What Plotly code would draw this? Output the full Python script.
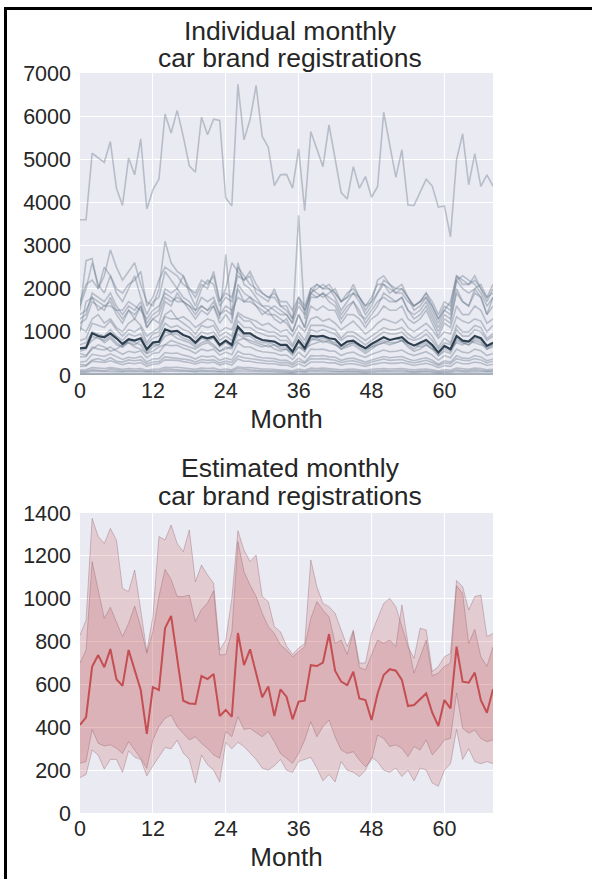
import plotly.graph_objects as go

# ---------------- DATA ----------------
months = list(range(69))
x_ticks = [0, 12, 24, 36, 48, 60]
y1_ticks = [0, 1000, 2000, 3000, 4000, 5000, 6000, 7000]
y2_ticks = [0, 200, 400, 600, 800, 1000, 1200, 1400]

title_top = ["Individual monthly", "car brand registrations"]
title_bottom = ["Estimated monthly", "car brand registrations"]
x_title = "Month"

# top panel: individual brands
brand_leader = [3600, 3600, 5140, 5030, 4930, 5410, 4330, 3930, 5030, 4640, 5475, 3850, 4290, 4540,
                6050, 5610, 6130, 5530, 4850, 4700, 5980, 5570, 5930, 5900, 4100, 3920, 6740, 5450,
                5920, 6710, 5530, 5280, 4390, 4640, 4650, 4330, 5240, 3810, 5640, 5240, 4830, 5800,
                4990, 4230, 4080, 4830, 4330, 4600, 4120, 4370, 6090, 5300, 4580, 5220, 3940, 3930,
                4220, 4540, 4380, 3890, 3920, 3200, 4990, 5590, 4410, 5130, 4370, 4640, 4380]
brand_a = [1500, 2650, 2700, 2000, 2300, 2900, 2500, 2200, 2400, 2600, 2100, 1700, 1600, 2000, 3100,
           2600, 2400, 2300, 2000, 1800, 2100, 2000, 2400, 1700, 2000, 2600, 2400, 2200, 2300, 1900,
           1800, 1700, 2000, 1600, 1500, 1300, 1800, 1500, 1900, 2100, 2000, 2100, 1900, 1700, 1900,
           2000, 1800, 1500, 1700, 2200, 2300, 2100, 2000, 2100, 1800, 1600, 1700, 1900, 1600, 1300,
           1500, 1700, 2300, 2200, 2100, 2200, 2000, 1700, 2000]
brand_b = [1300, 1400, 1900, 1800, 1700, 1900, 1600, 1400, 1600, 1500, 1700, 1200, 1400, 1500, 2000,
           1900, 2000, 1800, 1700, 1500, 1800, 1700, 1800, 1400, 1500, 1400, 2600, 2100, 2000, 1800,
           1600, 1600, 1500, 1400, 1400, 1200, 3700, 1300, 1800, 1800, 1900, 1800, 1700, 1400, 1600,
           1700, 1400, 1300, 1500, 1700, 1800, 1700, 1700, 1800, 1500, 1400, 1500, 1700, 1400, 1100,
           1400, 1300, 1900, 1700, 1600, 1900, 1800, 1400, 1600]
brand_c = [1200, 1300, 1700, 1600, 1500, 1800, 1500, 1300, 1500, 1400, 1600, 1100, 1300, 1400, 1800,
           1700, 1800, 1700, 1600, 1400, 1600, 1500, 1600, 1300, 2800, 1300, 2000, 1700, 1700, 1600,
           1500, 1400, 1400, 1300, 1200, 1000, 1400, 1100, 1600, 1500, 1600, 1500, 1500, 1200, 1400,
           1400, 1300, 1100, 1300, 1400, 1600, 1500, 1500, 1600, 1300, 1200, 1300, 1500, 1200, 900,
           1200, 1100, 1600, 1400, 1400, 1600, 1500, 1200, 1300]
brand_d = [1000, 1700, 1800, 1500, 1600, 1700, 1400, 1200, 1500, 1300, 1600, 1100, 1300, 1200, 1700,
           1600, 1900, 1700, 1500, 1300, 1500, 1400, 1600, 1200, 1400, 1200, 2100, 1900, 1800, 1600,
           1400, 1500, 1300, 1200, 1300, 1000, 1400, 1100, 1900, 1800, 1900, 1700, 1600, 1300, 1500,
           1700, 1500, 1200, 1400, 1600, 1900, 1800, 1700, 1800, 1500, 1300, 1400, 1600, 1300, 1000,
           1300, 1200, 2000, 1700, 1600, 2000, 1800, 1400, 1800]
brand_e = [800, 850, 1200, 1150, 1100, 1250, 1050, 900, 1050, 1000, 1100, 750, 950, 1000, 1350, 1300,
           1300, 1200, 1100, 950, 1150, 1100, 1150, 900, 1000, 900, 1400, 1250, 1250, 1100, 1050, 1000,
           1000, 900, 900, 700, 1000, 800, 1150, 1150, 1150, 1100, 1050, 850, 1000, 1000, 900, 800, 900,
           1000, 1100, 1050, 1050, 1100, 950, 850, 950, 1050, 900, 650, 850, 750, 1150, 1000, 1000, 1150,
           1100, 850, 950]
brand_f = [550, 600, 900, 850, 800, 900, 750, 650, 750, 700, 800, 550, 700, 700, 1000, 950, 950, 850,
           800, 700, 850, 800, 850, 650, 750, 650, 1050, 900, 900, 800, 750, 750, 700, 650, 650, 500,
           750, 550, 850, 800, 850, 800, 750, 600, 700, 750, 650, 550, 650, 750, 800, 750, 750, 800, 700,
           600, 700, 750, 650, 450, 600, 550, 850, 750, 700, 850, 800, 600, 700]
brand_g = [420, 430, 650, 600, 580, 650, 560, 480, 550, 520, 560, 400, 500, 520, 700, 680, 690, 620,
           580, 500, 600, 560, 600, 460, 530, 470, 750, 650, 650, 580, 540, 520, 510, 460, 460, 360, 530,
           410, 600, 590, 600, 560, 550, 450, 510, 530, 460, 410, 480, 530, 580, 540, 550, 580, 500, 450,
           500, 540, 460, 340, 450, 400, 600, 530, 510, 600, 560, 450, 500]
brand_h = [300, 320, 480, 450, 430, 490, 420, 360, 410, 390, 430, 300, 370, 380, 520, 500, 510, 460,
           430, 370, 440, 420, 440, 340, 390, 350, 550, 480, 480, 430, 400, 390, 380, 340, 340, 270, 390,
           300, 450, 440, 450, 420, 410, 340, 380, 390, 340, 300, 350, 390, 430, 400, 410, 430, 370, 330,
           370, 400, 340, 250, 330, 300, 450, 390, 380, 450, 420, 330, 370]
brand_i = [200, 210, 320, 300, 290, 330, 280, 240, 280, 260, 290, 200, 250, 260, 350, 340, 340, 310,
           290, 250, 300, 280, 300, 230, 270, 230, 370, 320, 320, 290, 270, 260, 260, 230, 230, 180, 260,
           200, 300, 300, 300, 280, 280, 230, 260, 260, 230, 200, 240, 260, 290, 270, 270, 290, 250, 220,
           250, 270, 230, 170, 220, 200, 300, 260, 260, 300, 280, 220, 250]
brand_j = [110, 120, 170, 160, 150, 170, 150, 130, 150, 140, 150, 110, 130, 140, 180, 170, 180, 160,
           150, 130, 160, 150, 160, 120, 140, 120, 190, 170, 170, 150, 140, 140, 130, 120, 120, 100, 140,
           110, 160, 150, 160, 150, 140, 120, 130, 140, 120, 110, 130, 140, 150, 140, 140, 150, 130, 120,
           130, 140, 120, 90, 120, 110, 160, 140, 130, 160, 150, 120, 130]
brand_k = [60, 60, 90, 85, 80, 90, 80, 70, 80, 75, 80, 60, 70, 70, 95, 90, 95, 85, 80, 70, 85, 80, 85,
           65, 75, 65, 100, 90, 90, 80, 75, 75, 70, 65, 65, 50, 75, 60, 85, 80, 85, 80, 75, 60, 70, 75,
           65, 55, 65, 75, 80, 75, 75, 80, 70, 60, 70, 75, 65, 45, 60, 55, 85, 75, 70, 85, 80, 60, 70]
brand_l = [25, 25, 35, 35, 30, 35, 30, 28, 30, 30, 30, 22, 28, 28, 38, 36, 36, 33, 30, 28, 32, 30, 32,
           25, 28, 25, 40, 35, 35, 32, 30, 30, 28, 25, 25, 20, 30, 22, 33, 32, 33, 32, 30, 25, 28, 30,
           25, 22, 25, 28, 32, 30, 30, 32, 28, 25, 28, 30, 25, 18, 25, 22, 33, 30, 28, 33, 32, 25, 28]
brand_m = [1400, 1500, 1800, 1700, 1600, 1600, 1500, 1500, 1700, 1600, 1500, 1300, 1500, 1600, 1900,
           1800, 1700, 1700, 1600, 1500, 1600, 1500, 1700, 1400, 1600, 1500, 1800, 1700, 1800, 1700,
           1600, 1500, 1600, 1500, 1400, 1200, 1600, 1400, 2000, 1900, 1800, 1900, 2000, 1700, 1800,
           1900, 1800, 1600, 1700, 1900, 2100, 2000, 1900, 1900, 1700, 1600, 1700, 1800, 1600, 1300,
           1600, 1500, 2200, 2000, 1900, 2000, 2100, 1800, 1900]
brand_n = [700, 750, 1000, 950, 900, 1050, 900, 800, 950, 900, 950, 700, 850, 900, 1200, 1100, 1150,
           1050, 1000, 850, 1000, 950, 1000, 800, 900, 800, 1250, 1100, 1100, 1000, 950, 900, 900, 800,
           800, 650, 900, 700, 1050, 1000, 1050, 1000, 950, 800, 900, 900, 800, 700, 800, 900, 1000, 950,
           950, 1000, 850, 800, 850, 950, 800, 600, 750, 700, 1050, 900, 900, 1050, 1000, 800, 900]
brand_o = [1700, 2100, 2200, 2000, 2500, 2300, 2000, 1900, 2100, 2200, 2400, 1600, 1800, 2200, 2500,
           2400, 2300, 2100, 2000, 1900, 2200, 2100, 2300, 1700, 1900, 1800, 2300, 2200, 2400, 2100,
           1900, 1800, 1900, 1700, 1700, 1500, 1800, 1600, 2000, 2100, 2000, 2000, 1900, 1700, 1800,
           2100, 1800, 1600, 1800, 2100, 2100, 1900, 2000, 2000, 1800, 1600, 1700, 1900, 1700, 1400,
           1700, 1600, 2300, 2100, 2100, 2300, 2000, 1800, 2100]
brand_p = [500, 450, 600, 700, 650, 550, 600, 700, 750, 650, 600, 500, 550, 650, 700, 800, 750, 700,
           650, 600, 700, 750, 650, 550, 600, 650, 800, 850, 750, 700, 650, 700, 600, 550, 600, 500, 650,
           600, 700, 750, 800, 750, 700, 650, 700, 750, 700, 600, 650, 700, 750, 800, 850, 800, 750, 700,
           650, 700, 600, 550, 650, 600, 750, 700, 800, 750, 700, 650, 700]
brand_q = [1100, 1000, 1300, 1400, 1200, 1300, 1100, 1000, 1200, 1300, 1150, 900, 1000, 1100, 1400,
           1500, 1300, 1350, 1250, 1100, 1200, 1300, 1250, 1000, 1100, 1050, 1450, 1350, 1300, 1250,
           1150, 1200, 1100, 1000, 1050, 900, 1150, 1000, 1300, 1350, 1250, 1300, 1200, 1050, 1150, 1250,
           1100, 950, 1050, 1200, 1300, 1250, 1200, 1300, 1100, 1000, 1100, 1200, 1050, 850, 1000, 950,
           1350, 1250, 1200, 1300, 1250, 1000, 1150]
brand_r = [1600, 2000, 2600, 2100, 1900, 2300, 1900, 1700, 2000, 2300, 1800, 1400, 1700, 1800, 2400,
           2200, 2000, 2300, 1900, 1600, 2000, 2200, 2100, 1600, 1800, 1700, 2500, 2300, 2100, 2000,
           1900, 1800, 1800, 1600, 1600, 1300, 1700, 1500, 1900, 2000, 2100, 2000, 1800, 1500, 1700,
           1900, 1700, 1400, 1600, 1900, 2200, 2100, 1900, 2000, 1800, 1500, 1600, 1800, 1500, 1200,
           1500, 1400, 2200, 2300, 2200, 2100, 1900, 1600, 1800]
brand_s = [600, 650, 800, 900, 750, 850, 700, 650, 800, 750, 700, 500, 650, 700, 900, 950, 850, 800,
           750, 650, 750, 800, 700, 550, 650, 600, 950, 850, 800, 750, 700, 650, 700, 600, 600, 450, 650,
           550, 800, 850, 750, 800, 700, 600, 650, 700, 600, 500, 600, 700, 750, 700, 750, 800, 650, 550,
           600, 700, 600, 450, 550, 500, 800, 750, 700, 800, 750, 600, 650]
brand_t = [250, 230, 350, 380, 330, 400, 320, 300, 350, 330, 350, 250, 300, 310, 420, 400, 380, 370,
           350, 300, 360, 340, 350, 280, 320, 290, 440, 400, 380, 350, 330, 320, 320, 280, 290, 230, 320,
           270, 380, 370, 380, 360, 340, 290, 320, 330, 290, 250, 300, 330, 370, 340, 350, 360, 310, 280,
           310, 340, 290, 220, 280, 260, 380, 340, 330, 380, 350, 280, 320]
brand_u = [80, 90, 120, 110, 100, 130, 110, 90, 110, 100, 110, 80, 90, 100, 140, 130, 130, 120, 110, 90,
           110, 100, 110, 80, 90, 90, 150, 130, 120, 110, 100, 100, 100, 90, 90, 70, 100, 80, 120, 110,
           120, 110, 100, 80, 100, 100, 90, 80, 90, 100, 110, 100, 110, 110, 90, 80, 90, 100, 90, 70, 80,
           80, 120, 100, 100, 120, 110, 90, 100]
brand_v = [15, 15, 20, 20, 18, 20, 18, 15, 18, 17, 18, 13, 15, 16, 22, 21, 21, 19, 18, 15, 18, 17, 18,
           14, 16, 14, 23, 20, 20, 18, 17, 16, 16, 14, 14, 11, 16, 13, 19, 18, 19, 18, 17, 14, 16, 16,
           14, 13, 15, 16, 18, 17, 17, 18, 15, 14, 15, 17, 14, 11, 14, 12, 19, 16, 16, 19, 18, 14, 16]
brand_mean = [619, 634, 967, 905, 874, 967, 851, 719, 828, 797, 851, 596, 750, 773, 1060, 1005, 1021,
              928, 874, 750, 890, 851, 890, 696, 797, 696, 1121, 967, 967, 874, 812, 789, 773, 696, 696,
              541, 797, 619, 905, 890, 905, 851, 828, 681, 773, 797, 696, 619, 719, 797, 874, 812, 835,
              874, 750, 681, 750, 812, 696, 518, 673, 596, 905, 797, 773, 905, 851, 673, 750]
brands = [brand_leader, brand_a, brand_b, brand_c, brand_d, brand_e, brand_f, brand_g, brand_h,
          brand_i, brand_j, brand_k, brand_l, brand_m, brand_n, brand_o, brand_p, brand_q, brand_r,
          brand_s, brand_t, brand_u, brand_v]

# bottom panel: estimate with 50% and 90% bands
est_median = [411, 446, 683, 737, 680, 765, 624, 593, 761, 667, 574, 369, 587, 574, 862, 920, 722, 524,
              511, 509, 639, 625, 649, 453, 481, 449, 840, 690, 764, 652, 540, 590, 453, 577, 543, 437,
              520, 524, 690, 686, 702, 835, 664, 613, 597, 659, 535, 527, 434, 558, 644, 671, 664, 621,
              499, 504, 531, 558, 468, 406, 527, 488, 776, 613, 608, 655, 527, 468, 577]
est_hi50 = [700, 760, 1173, 1041, 908, 960, 893, 823, 885, 966, 870, 745, 846, 1010, 1137, 1090, 1010,
            1010, 1017, 893, 950, 980, 1037, 737, 740, 846, 1266, 1126, 1064, 1010, 932, 870, 838, 784,
            761, 729, 753, 776, 908, 986, 947, 916, 792, 807, 740, 846, 680, 667, 737, 807, 792, 807, 776,
            971, 792, 653, 729, 807, 640, 653, 684, 700, 1060, 1025, 792, 857, 729, 684, 776]
est_hi90 = [830, 900, 1375, 1290, 1258, 1328, 1274, 1048, 1033, 1134, 947, 753, 916, 1290, 1274, 1344,
            1258, 1219, 1321, 1079, 1157, 1111, 1072, 760, 807, 1000, 1317, 1227, 1173, 1204, 1010, 986,
            870, 846, 780, 740, 770, 790, 1181, 1056, 978, 963, 932, 854, 776, 854, 700, 700, 838, 908,
            978, 1002, 963, 870, 776, 722, 862, 854, 660, 684, 729, 745, 1085, 1056, 947, 1010, 1017, 823,
            838]
est_lo50 = [232, 240, 390, 325, 313, 318, 302, 278, 333, 294, 255, 208, 341, 403, 442, 457, 403, 372,
            341, 356, 325, 302, 271, 255, 380, 356, 449, 390, 395, 375, 356, 380, 333, 278, 255, 232, 278,
            341, 426, 356, 403, 434, 356, 294, 278, 286, 247, 216, 247, 364, 348, 310, 318, 302, 263, 310,
            294, 341, 271, 302, 341, 348, 559, 395, 372, 387, 348, 333, 341]
est_lo90 = [165, 180, 294, 270, 205, 250, 250, 190, 290, 260, 250, 173, 220, 265, 305, 300, 340, 280,
            250, 140, 270, 225, 200, 145, 330, 300, 330, 310, 280, 250, 210, 200, 220, 250, 200, 190, 240,
            250, 260, 210, 150, 180, 145, 240, 200, 190, 170, 200, 260, 240, 200, 190, 210, 170, 200, 150,
            210, 200, 140, 125, 200, 230, 390, 250, 300, 240, 230, 240, 230]

# ---------------- FIGURE ----------------
FONT = "Liberation Sans, Arial, sans-serif"
TXT = "#262626"
BG = "#EAEAF2"
RED = "#C44E52"
fig = go.Figure()

for b in brands:
    fig.add_trace(go.Scatter(x=months, y=b, mode="lines", xaxis="x", yaxis="y",
                             line=dict(color="rgba(105,122,140,0.40)", width=1.6),
                             showlegend=False, hoverinfo="skip"))
fig.add_trace(go.Scatter(x=months, y=brand_mean, mode="lines", xaxis="x", yaxis="y",
                         line=dict(color="#2E4050", width=2.2), showlegend=False))

band_edge = dict(color="rgba(140,90,100,0.45)", width=0.8)
fig.add_trace(go.Scatter(x=months, y=est_lo90, mode="lines", xaxis="x2", yaxis="y2",
                         line=band_edge, showlegend=False, hoverinfo="skip"))
fig.add_trace(go.Scatter(x=months, y=est_hi90, mode="lines", xaxis="x2", yaxis="y2", fill="tonexty",
                         fillcolor="rgba(196,78,82,0.2)", line=band_edge, showlegend=False,
                         hoverinfo="skip"))
fig.add_trace(go.Scatter(x=months, y=est_lo50, mode="lines", xaxis="x2", yaxis="y2",
                         line=band_edge, showlegend=False, hoverinfo="skip"))
fig.add_trace(go.Scatter(x=months, y=est_hi50, mode="lines", xaxis="x2", yaxis="y2", fill="tonexty",
                         fillcolor="rgba(196,78,82,0.2)", line=band_edge, showlegend=False,
                         hoverinfo="skip"))
fig.add_trace(go.Scatter(x=months, y=est_median, mode="lines", xaxis="x2", yaxis="y2",
                         line=dict(color=RED, width=2), showlegend=False))

W, H = 592, 879
ML, MR, MT, MB = 80, 99, 73, 66
PW, PH = W - ML - MR, H - MT - MB
top_dom = [1 - (375 - MT) / PH, 1]
bot_dom = [0, (813 - 513) / PH]

axis_common = dict(showgrid=True, gridcolor="white", gridwidth=1.2, zeroline=False, showline=False,
                   ticks="", automargin=False, tickfont=dict(size=21.5, color=TXT, family=FONT))
xcommon = dict(axis_common, range=[0, 68], tickmode="array", tickvals=x_ticks,
               title=dict(text=x_title, font=dict(size=26, color=TXT, family=FONT), standoff=8))

fig.update_layout(
    width=W, height=H, paper_bgcolor="white", plot_bgcolor=BG,
    margin=dict(l=ML, r=MR, t=MT, b=MB),
    font=dict(family=FONT, color=TXT),
    xaxis=dict(xcommon, domain=[0, 1], anchor="y"),
    yaxis=dict(axis_common, domain=top_dom, range=[0, 7000], tickmode="array", tickvals=y1_ticks,
               anchor="x", ticklabelstandoff=8),
    xaxis2=dict(xcommon, domain=[0, 1], anchor="y2"),
    yaxis2=dict(axis_common, domain=bot_dom, range=[0, 1400], tickmode="array", tickvals=y2_ticks,
                anchor="x2", ticklabelstandoff=8),
)


def px_x(px):
    return (px - ML) / PW


def px_y(py):
    return (H - MB - py) / PH


# two-line titles, each line placed separately (pixel centres from the reference)
for lines, centres in [(title_top, (31, 58)), (title_bottom, (468, 496))]:
    for txt, cy in zip(lines, centres):
        fig.add_annotation(text=txt, xref="paper", yref="paper", x=px_x(290), y=px_y(cy),
                           xanchor="center", yanchor="middle", showarrow=False,
                           font=dict(size=26.5, color=TXT, family=FONT))

# thin black frame (left & top) around the figure
fig.add_shape(type="line", xref="paper", yref="paper", x0=px_x(5.5), x1=px_x(5.5), y0=px_y(7),
              y1=px_y(H + 5), line=dict(color="black", width=3))
fig.add_shape(type="line", xref="paper", yref="paper", x0=px_x(4), x1=px_x(W + 5), y0=px_y(8.5),
              y1=px_y(8.5), line=dict(color="black", width=3))

fig.write_html("out.html", config={"displayModeBar": False},
               post_script="document.body.style.margin='0';")
